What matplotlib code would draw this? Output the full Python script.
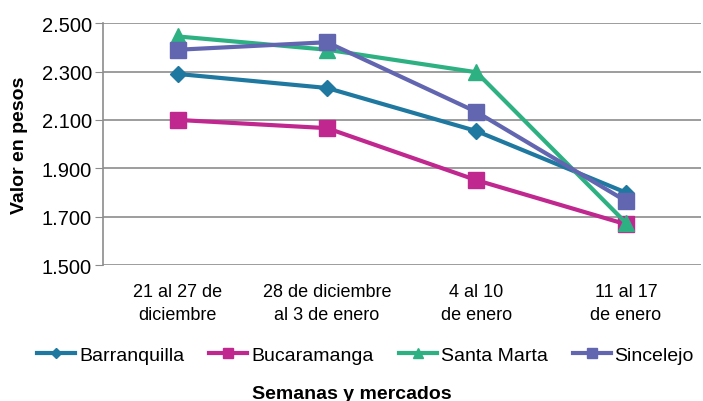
import matplotlib.pyplot as plt

plt.rcParams['font.family'] = ['Liberation Sans', 'DejaVu Sans']

semanas = ['21 al 27 de\ndiciembre', '28 de diciembre\nal 3 de enero',
           '4 al 10\nde enero', '11 al 17\nde enero']
mercados = ['Barranquilla', 'Bucaramanga', 'Santa Marta', 'Sincelejo']
barranquilla = [2290, 2232, 2054, 1800]
bucaramanga = [2100, 2066, 1851, 1669]
santa_marta = [2445, 2390, 2297, 1675]
sincelejo = [2390, 2421, 2133, 1765]

series = [barranquilla, bucaramanga, santa_marta, sincelejo]
colores = ['#1F78A0', '#C0288F', '#2DB183', '#6266B0']
marcadores = ['D', 's', '^', 's']
tamanos = [8.5, 11, 11, 11]

fig = plt.figure(figsize=(7.03, 4.02), dpi=100)
ax = fig.add_axes([0.1465, 0.338, 0.85, 0.602])

x = range(len(semanas))
for nombre, valores, c, m, ms in zip(mercados, series, colores, marcadores, tamanos):
    ax.plot(x, valores, color=c, marker=m, markersize=ms, linewidth=3, label=nombre)

ax.set_xlim(-0.5, 3.5)
ax.set_ylim(1500, 2500)
ax.set_yticks(range(1500, 2501, 200))
ax.set_yticklabels([f'{v:,}'.replace(',', '.') for v in range(1500, 2501, 200)], fontsize=14.5)
ax.set_xticks(list(x))
ax.set_xticklabels(semanas, fontsize=13, linespacing=1.45)
ax.tick_params(axis='x', length=0, pad=13)
ax.tick_params(axis='y', length=6, color='#8c8c8c', pad=2)
ax.grid(axis='y', color='#8c8c8c', linewidth=1.2)
ax.set_axisbelow(True)
for s in ['top', 'right', 'bottom']:
    ax.spines[s].set_visible(False)
ax.spines['left'].set_color('#8c8c8c')
ax.spines['left'].set_linewidth(1.2)

ax.set_ylabel('Valor en pesos', fontsize=14, fontweight='bold')
ax.yaxis.set_label_coords(-0.125, 0.5)
fig.text(0.5, 0.008, 'Semanas y mercados', ha='center', va='baseline', fontsize=14, fontweight='bold')

fig.legend(loc='center', bbox_to_anchor=(0.52, 0.114), ncol=4, frameon=False, fontsize=14,
           handlelength=1.95, handletextpad=0.2, columnspacing=1.3, markerscale=0.65)

fig.savefig('out.png', dpi=100)
